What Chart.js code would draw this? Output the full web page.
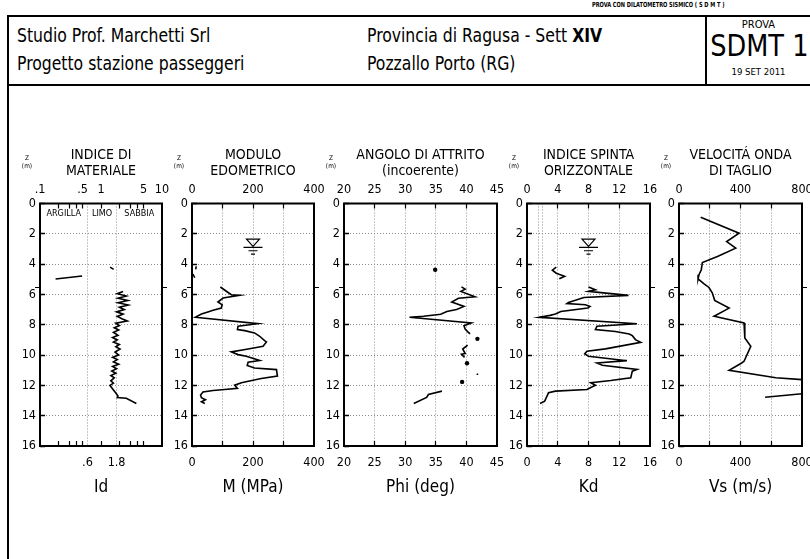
<!DOCTYPE html>
<html lang="it">
<head>
<meta charset="utf-8">
<title>SDMT 1 - Pozzallo Porto</title>
<script src="https://cdn.jsdelivr.net/npm/chart.js@4.4.1/dist/chart.umd.min.js"></script>
<style>
  html, body { margin: 0; padding: 0; background: #fff; }
  #sheet { position: relative; width: 810px; height: 559px; overflow: hidden; background: #fff; color: #000;
    font-family: 'DejaVu Sans Condensed', 'Liberation Sans Narrow', sans-serif; }
  .rule { position: absolute; background: #000; }
  .txt { position: absolute; white-space: nowrap; line-height: 1; transform-origin: 0 0; }
  .head { font-size: 20px; transform: scaleX(0.87); }
  canvas { position: absolute; }
</style>
</head>
<body>
<div id="sheet">
  <div class="txt" style="left:592px;top:2px;font-size:7px;font-weight:bold;transform:scaleX(0.8);">PROVA CON DILATOMETRO SISMICO ( S D M T )</div>
  <div class="rule" style="left:7px;top:15px;width:803px;height:2px;"></div>
  <div class="rule" style="left:7px;top:15px;width:2px;height:544px;"></div>
  <div class="rule" style="left:7px;top:84px;width:803px;height:2px;"></div>
  <div class="rule" style="left:705px;top:15px;width:2px;height:71px;"></div>

  <div class="txt head" style="left:17px;top:25px;">Studio Prof. Marchetti Srl</div>
  <div class="txt head" style="left:17px;top:53px;">Progetto stazione passeggeri</div>
  <div class="txt head" style="left:367px;top:25px;">Provincia di Ragusa - Sett <b>XIV</b></div>
  <div class="txt head" style="left:367px;top:53px;">Pozzallo Porto (RG)</div>

  <div class="txt" style="left:707px;width:103px;text-align:center;top:19px;font-size:11px;">PROVA</div>
  <div class="txt" style="left:709px;width:106px;text-align:center;top:31px;font-size:30px;transform:scaleX(0.95);">SDMT 1</div>
  <div class="txt" style="left:707px;width:103px;text-align:center;top:67px;font-size:9.5px;">19 SET 2011</div>
</div>

<script>
// ---------- shared look ----------
const FONT = "'DejaVu Sans Condensed', 'Liberation Sans Narrow', sans-serif";
const INK = '#000000';
const GRID = '#8c8c8c';
const NONE = 'rgba(0,0,0,0)';

// ---------- depth axis ----------
const depthMin = 0;
const depthMax = 16;
const depthStep = 2;
const waterDepth = 2.9;              // groundwater level (m)
const sheetFoldDepth = 5.5;          // short marks beside every log

// ---------- Id : material index (log axis) ----------
const idTopTicks = [0.1, 0.5, 1, 5, 10];
const idTopLabels = ['.1', '.5', '1', '5', '10'];
const idBottomTicks = [0.6, 1.8];
const idBottomLabels = ['.6', '1.8'];
const idMinorTicks = [0.2, 0.3, 0.4, 0.5, 1, 2, 3, 4, 5];
const idGrid = [0.6, 1.8];
const soilZones = ['ARGILLA', 'LIMO', 'SABBIA'];
const idDepth = [4.98, 4.78, null, 4.2, 4.35, null,
  5.8, 5.95, 6.1, 6.25, 6.4, 6.55, 6.7, 6.85, 7.0, 7.15, 7.3, 7.45, 7.6, 7.75, 7.9, 8.05,
  8.2, 8.35, 8.5, 8.7, 8.85, 9.0, 9.15, 9.3, 9.45, 9.6, 9.8, 10.0, 10.15, 10.3, 10.45, 10.6,
  10.75, 10.9, 11.05, 11.2, 11.35, 11.5, 11.7, 11.85, 12.0, 12.15, 12.3, 12.5, 12.7, 12.8, 12.85, 13.2];
const idValue = [0.18, 0.49, null, 1.41, 1.61, null,
  2.3, 1.85, 2.6, 1.9, 2.75, 1.9, 2.8, 2.0, 2.4, 1.8, 2.3, 1.85, 2.2, 2.7, 1.75, 2.0,
  1.65, 1.95, 1.6, 1.9, 1.55, 1.85, 1.6, 2.0, 1.75, 2.05, 1.7, 1.95, 1.55, 1.85, 1.6, 1.95,
  1.55, 1.8, 1.5, 1.75, 1.45, 1.65, 1.45, 1.6, 1.4, 1.5, 1.6, 1.75, 1.9, 1.85, 2.6, 3.8];

// ---------- M : constrained modulus (MPa) ----------
const mTicks = [0, 200, 400];
const mLabels = ['0', '200', '400'];
const mGrid = [100, 200, 300];
const mDepth = [4.15, 4.35, null, 4.65, 4.9, null,
  5.51, 5.84, 6.02, 6.06, 6.24, 6.5, 6.68, 6.9, 7.05, 7.16, 7.29, 7.51, 7.93, 8.1, 8.32, 8.39,
  8.54, 8.76, 9.05, 9.13, 9.42, 9.6, 9.79, 9.97, 10.08, 10.36, 10.47, 10.69, 10.85, 10.96,
  11.39, 11.55, 11.83, 11.99, 12.2, 12.27, 12.34, 12.43, 12.64, 12.82, 12.95, 13.08, 13.19];
const mValue = [14, 12, null, 3, 9, null,
  93, 116, 129, 156, 102, 85, 99, 96, 69, 52, 31, 11, 216, 151, 149, 173,
  205, 222, 238, 244, 233, 184, 129, 151, 178, 222, 184, 181, 205, 277,
  280, 227, 162, 140, 149, 107, 69, 36, 28, 31, 44, 31, 42];

// ---------- Phi : friction angle (deg) ----------
const phiTicks = [20, 25, 30, 35, 40, 45];
const phiLabels = ['20', '25', '30', '35', '40', '45'];
const phiGrid = [25, 30, 35, 40];
const phiDepth = [4.37, null,
  5.5, 5.65, 5.8, 6.15, 6.25, 6.5, 6.62, 6.79, 7.0, 7.12, 7.31, 7.44, 7.51, 7.88, 8.06, 8.28, 8.45, 8.6, null,
  8.93, null, 9.35, 9.6, 9.9, 9.95, 10.15, null, 10.54, null, 11.22, 11.32, null, 11.77, null,
  12.38, 12.6, 12.8, 13.19];
const phiValue = [34.9, null,
  39.2, 39.8, 39.1, 41.4, 38.7, 37.6, 38.4, 39.6, 38.4, 36.8, 35.8, 33.0, 30.7, 40.8, 39.6, 39.8, 40.2, 40.6, null,
  41.8, null, 40.2, 39.4, 39.8, 39.2, 39.7, null, 40.1, null, 41.8, 41.8, null, 39.3, null,
  36.0, 33.8, 33.5, 31.4];

// ---------- Kd : horizontal stress index ----------
const kdTicks = [0, 4, 8, 12, 16];
const kdLabels = ['0', '4', '8', '12', '16'];
const kdGrid = [1.5, 2, 4, 8, 12];
const kdMarks = [4, 8, 12];
const kdDepth = [4.2, 4.4, 4.6, 4.8, 4.97, null,
  5.51, 5.69, 5.8, 6.06, 6.2, 6.53, 6.6, 6.68, 6.79, 6.9, 7.12, 7.29, 7.38, 7.51, 7.93, 8.1, 8.32,
  8.45, 8.61, 8.72, 8.98, 9.16, 9.59, 9.75, 9.92, 10.08, 10.37, 10.52, 10.67, 10.95, 11.06, 11.5,
  11.68, 11.83, 11.99, 12.27, 12.38, 12.49, 12.71, 13.04, 13.19];
const kdValue = [3.8, 3.3, 3.8, 4.9, 4.2, null,
  8.0, 8.9, 8.0, 13.2, 7.4, 5.4, 5.2, 7.6, 8.2, 7.9, 4.4, 3.7, 3.0, 1.6, 14.3, 9.1, 8.9,
  11.5, 13.3, 13.7, 14.1, 14.8, 10.2, 7.8, 7.5, 8.0, 13.0, 9.1, 9.8, 14.3, 13.7, 13.5,
  10.9, 8.3, 8.9, 7.8, 3.7, 2.8, 2.6, 2.3, 1.7];

// ---------- Vs : shear wave velocity (m/s) ----------
const vsTicks = [0, 400, 800];
const vsLabels = ['0', '400', '800'];
const vsGrid = [200, 400, 600];
const vsDepth = [0.91, 1.96, 2.51, 2.95, 3.5, 3.89, 4.37, 4.7, 4.97, 5.3, 5.54, 5.91, 6.39, 6.9,
  7.44, 7.88, 8.87, 9.42, 10.41, 10.56, 11.0, 11.5, 11.62, null, 12.55, 12.78];
const vsValue = [141, 391, 310, 369, 250, 152, 145, 130, 124, 163, 195, 217, 232, 326,
  228, 423, 428, 467, 423, 402, 326, 630, 800, null, 800, 560];

// ---------- panel layout ----------
const TOP_BAND = 63.5;   // canvas top to plot top
const BOTTOM_BAND = 54;  // plot bottom to canvas bottom
const PLOT_HEIGHT = 242.5;
const LEFT_BAND = 32;    // room for depth labels
const RIGHT_PAD = 14;
const CANVAS_TOP = 140;

const panels = [
  { left: 40, right: 162, type: 'logarithmic', min: 0.1, max: 10,
    topTicks: idTopTicks, topLabels: idTopLabels, bottomTicks: idBottomTicks, bottomLabels: idBottomLabels,
    marks: idMinorTicks, grid: idGrid, title: ['INDICE DI', 'MATERIALE'], axisTitle: 'Id',
    depth: idDepth, value: idValue, zones: soilZones },
  { left: 192, right: 314, type: 'linear', min: 0, max: 400,
    topTicks: mTicks, topLabels: mLabels, bottomTicks: mTicks, bottomLabels: mLabels,
    marks: mGrid, grid: mGrid, title: ['MODULO', 'EDOMETRICO'], axisTitle: 'M (MPa)',
    depth: mDepth, value: mValue, water: 200 },
  { left: 344, right: 497, type: 'linear', min: 20, max: 45,
    topTicks: phiTicks, topLabels: phiLabels, bottomTicks: phiTicks, bottomLabels: phiLabels,
    marks: phiGrid, grid: phiGrid, title: ['ANGOLO DI ATTRITO', '(incoerente)'], axisTitle: 'Phi (deg)',
    depth: phiDepth, value: phiValue },
  { left: 527, right: 650, type: 'linear', min: 0, max: 16,
    topTicks: kdTicks, topLabels: kdLabels, bottomTicks: kdTicks, bottomLabels: kdLabels,
    marks: kdMarks, grid: kdGrid, title: ['INDICE SPINTA', 'ORIZZONTALE'], axisTitle: 'Kd',
    depth: kdDepth, value: kdValue, water: 8 },
  { left: 679, right: 802, type: 'linear', min: 0, max: 800,
    topTicks: vsTicks, topLabels: vsLabels, bottomTicks: vsTicks, bottomLabels: vsLabels,
    marks: vsGrid, grid: vsGrid, title: ['VELOCITÁ ONDA', 'DI TAGLIO'], axisTitle: 'Vs (m/s)',
    depth: vsDepth, value: vsValue }
];

function toPoints(depths, values) {
  return depths.map((d, i) => (d === null || values[i] === null) ? { x: null, y: null } : { x: values[i], y: d });
}

// a reading with no neighbours is shown as a dot
function dotRadius(ctx) {
  const data = ctx.dataset.data;
  const i = ctx.dataIndex;
  const p = data[i];
  if (!p || p.x === null) return 0;
  const prev = data[i - 1], next = data[i + 1];
  const alone = (!prev || prev.x === null) && (!next || next.x === null);
  return alone ? 2.2 : 0;
}

// keep the plot box exactly where the layout puts it
function fixBox(size, horizontal) {
  return s => {
    if (horizontal) s.height = size; else s.width = size;
    s.paddingLeft = 0; s.paddingRight = 0; s.paddingTop = 0; s.paddingBottom = 0;
  };
}

function xAxis(p, where) {
  const isTop = where === 'top';
  const labelled = isTop ? p.topTicks : p.bottomTicks;
  const labels = isTop ? p.topLabels : p.bottomLabels;
  const labelOf = new Map(labelled.map((v, i) => [v, labels[i]]));
  const markSet = new Set(p.marks);
  const gridSet = new Set(isTop ? [] : p.grid);
  const all = Array.from(new Set([p.min, ...labelled, ...p.marks, ...(isTop ? [] : p.grid), p.max])).sort((a, b) => a - b);
  return {
    type: p.type, min: p.min, max: p.max, position: where,
    afterBuildTicks: s => { s.ticks = all.map(v => ({ value: v })); },
    afterFit: fixBox(isTop ? TOP_BAND : BOTTOM_BAND, true),
    ticks: {
      autoSkip: false, maxRotation: 0, minRotation: 0, color: INK,
      padding: isTop ? 11.3 : 13.8,
      font: { family: FONT, size: 12.5 },
      callback: v => labelOf.has(v) ? labelOf.get(v) : ''
    },
    grid: {
      display: true, drawOnChartArea: !isTop, lineWidth: 1,
      color: c => (c.tick && gridSet.has(c.tick.value)) ? GRID : NONE,
      tickLength: -5, tickWidth: 1.2,
      tickColor: c => (c.tick && markSet.has(c.tick.value)) ? INK : NONE
    },
    border: { display: false, dash: [1, 2] },
    title: isTop
      ? { display: true, text: p.title, color: INK, font: { family: FONT, size: 14, lineHeight: 16 / 14 }, padding: { top: 7, bottom: 0 } }
      : { display: true, text: p.axisTitle, color: INK, font: { family: FONT, size: 17, lineHeight: 1.1 }, padding: { top: 0, bottom: 3 } }
  };
}

const framePlugin = {
  id: 'frame',
  afterDraw(chart) {
    const { ctx, chartArea: a } = chart;
    ctx.save();
    ctx.strokeStyle = INK;
    ctx.lineWidth = 2;
    ctx.strokeRect(a.left, a.top, a.right - a.left, a.bottom - a.top);
    ctx.restore();
  }
};

const extrasPlugin = {
  id: 'extras',
  afterDraw(chart, args, opts) {
    const p = opts.panel;
    const { ctx, chartArea: a } = chart;
    const xs = chart.scales.x, ys = chart.scales.y;
    ctx.save();
    ctx.fillStyle = INK;
    ctx.strokeStyle = INK;
    // depth unit label
    ctx.textAlign = 'center';
    ctx.textBaseline = 'middle';
    ctx.font = `6.5px ${FONT}`;
    ctx.fillText('Z', a.left - 13, 18);
    ctx.fillText('(m)', a.left - 13, 26);

    // short marks just outside the frame
    const yf = Math.round(ys.getPixelForValue(sheetFoldDepth)) + 0.5;
    ctx.lineWidth = 1;
    ctx.beginPath();
    ctx.moveTo(a.left - 5, yf); ctx.lineTo(a.left - 1, yf);
    ctx.moveTo(a.right + 1, yf); ctx.lineTo(a.right + 5, yf);
    ctx.stroke();

    // soil classes across the Id axis
    if (p.zones) {
      const bounds = [p.min, ...p.grid, p.max];
      ctx.font = `9px ${FONT}`;
      p.zones.forEach((name, i) => {
        const mid = Math.sqrt(bounds[i] * bounds[i + 1]);
        ctx.fillText(name, xs.getPixelForValue(mid), a.top + 10.5);
      });
    }

    // groundwater symbol
    if (p.water !== undefined) {
      const x = xs.getPixelForValue(p.water);
      const y = ys.getPixelForValue(waterDepth);
      ctx.lineWidth = 1.2;
      ctx.beginPath();
      ctx.moveTo(x - 6.5, y - 8.3); ctx.lineTo(x + 6.5, y - 8.3); ctx.lineTo(x, y - 1); ctx.closePath();
      ctx.stroke();
      ctx.beginPath();
      ctx.moveTo(x - 9.5, y); ctx.lineTo(x + 9.5, y);
      ctx.moveTo(x - 4.5, y + 3.3); ctx.lineTo(x + 4.5, y + 3.3);
      ctx.moveTo(x - 2, y + 6.6); ctx.lineTo(x + 2, y + 6.6);
      ctx.stroke();
    }
    ctx.restore();
  }
};

const sheet = document.getElementById('sheet');
panels.forEach(p => {
  const w = (p.right - p.left) + LEFT_BAND + RIGHT_PAD;
  const h = TOP_BAND + PLOT_HEIGHT + BOTTOM_BAND;
  const cv = document.createElement('canvas');
  cv.width = w; cv.height = h;
  cv.style.width = w + 'px'; cv.style.height = h + 'px';
  cv.style.left = (p.left - LEFT_BAND) + 'px';
  cv.style.top = CANVAS_TOP + 'px';
  sheet.appendChild(cv);

  new Chart(cv, {
    type: 'scatter',
    data: {
      datasets: [{
        data: toPoints(p.depth, p.value),
        showLine: true, spanGaps: false, tension: 0,
        borderColor: INK, borderWidth: 1.6,
        pointRadius: dotRadius, pointHoverRadius: 0,
        pointBackgroundColor: INK, pointBorderWidth: 0
      }]
    },
    options: {
      responsive: false, animation: false, devicePixelRatio: 1,
      layout: { padding: { left: 0, right: RIGHT_PAD, top: 0, bottom: 0 } },
      events: [],
      plugins: { legend: { display: false }, tooltip: { enabled: false }, extras: { panel: p } },
      scales: {
        x: xAxis(p, 'bottom'),
        x2: xAxis(p, 'top'),
        y: {
          type: 'linear', reverse: true, min: depthMin, max: depthMax,
          afterFit: fixBox(LEFT_BAND, false),
          ticks: { stepSize: depthStep, padding: 9, color: INK, autoSkip: false, font: { family: FONT, size: 12.5 } },
          grid: {
            lineWidth: 1,
            color: c => (c.tick && c.tick.value > depthMin && c.tick.value < depthMax) ? GRID : NONE,
            tickLength: -5, tickWidth: 1.5, tickColor: INK
          },
          border: { display: false, dash: [1, 2] }
        }
      }
    },
    plugins: [framePlugin, extrasPlugin]
  });
});
</script>
</body>
</html>
